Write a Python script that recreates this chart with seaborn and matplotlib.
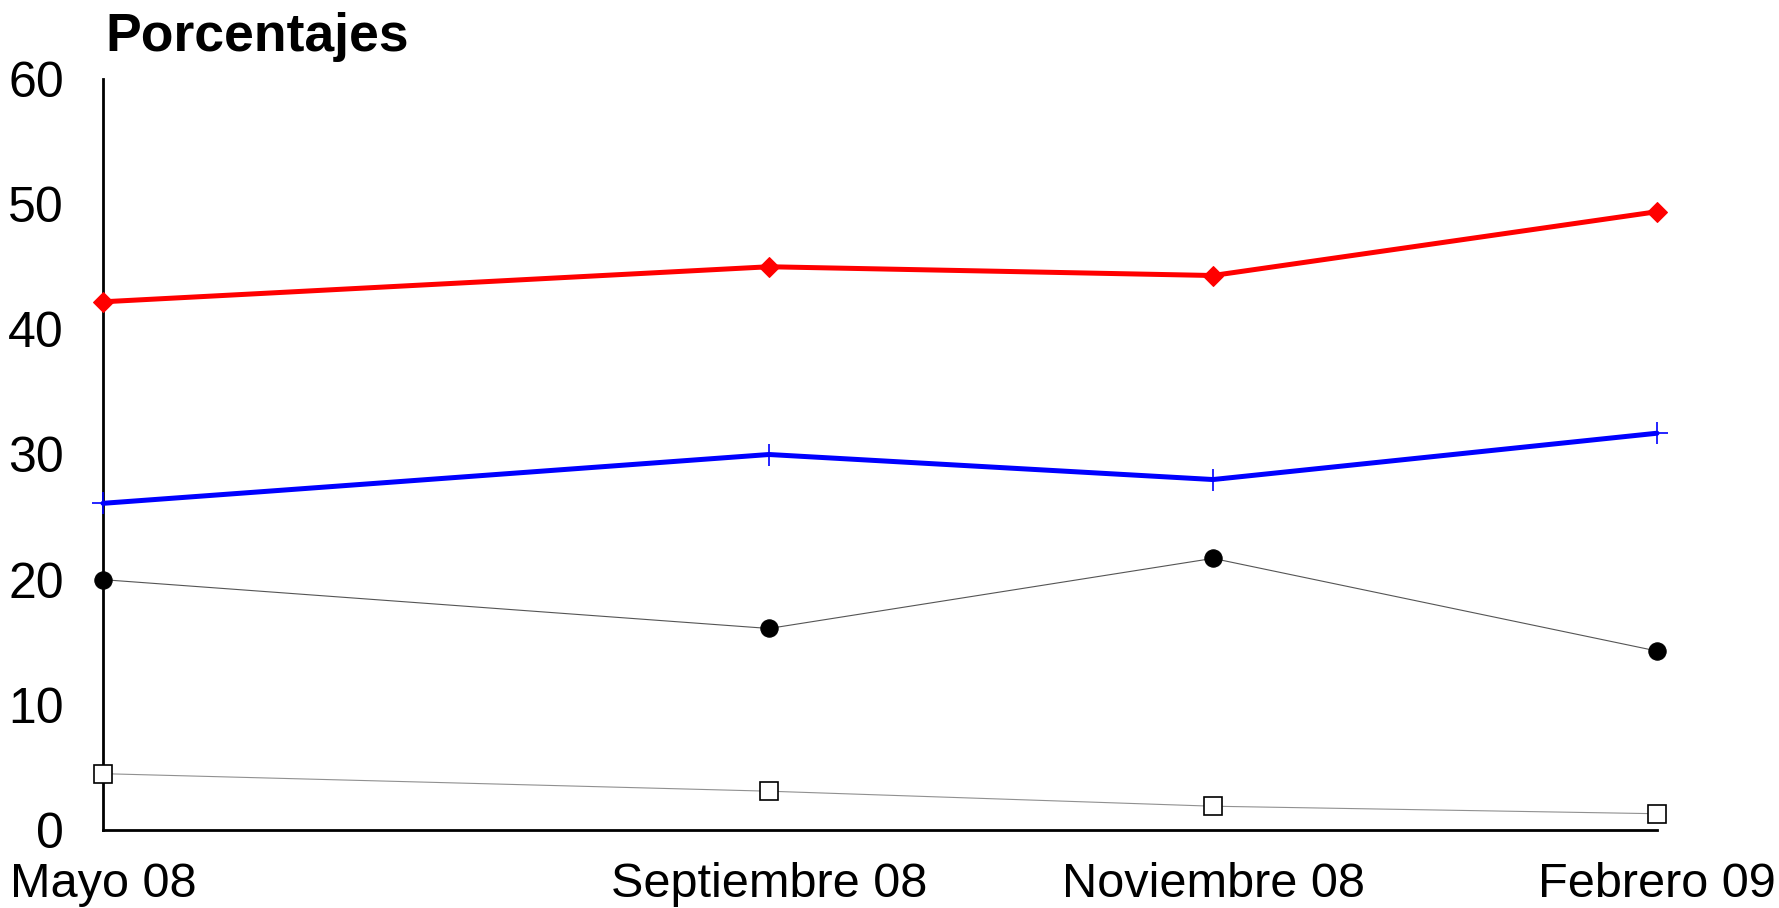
import matplotlib
matplotlib.use("Agg")
import matplotlib.pyplot as plt
import seaborn as sns
import pandas as pd

categories = ["Mayo 08", "Septiembre 08", "Noviembre 08", "Febrero 09"]
positions = [0, 3, 5, 7]
serie_roja = [42.2, 45.0, 44.3, 49.4]
serie_azul = [26.1, 30.0, 28.0, 31.7]
serie_negra = [20.0, 16.1, 21.7, 14.3]
serie_cuadros = [4.5, 3.1, 1.9, 1.3]
yticks = [0, 10, 20, 30, 40, 50, 60]

sns.set_style("white")
plt.rcParams['font.family'] = ['Liberation Sans', 'DejaVu Sans']

fig = plt.figure(figsize=(17.79, 9.08), dpi=100)
ax = fig.add_axes([103/1779, 78/908, (1657-103)/1779, (830-79)/908])

styles = [
    (serie_cuadros, dict(color="#909090", linewidth=0.8, marker="s", markersize=13,
                         markerfacecolor="white", markeredgecolor="black", markeredgewidth=1.2)),
    (serie_negra, dict(color="#555555", linewidth=0.8, marker="o", markersize=12.5,
                       markerfacecolor="black", markeredgecolor="black")),
    (serie_azul, dict(color="#0000FF", linewidth=3.6, marker="+", markersize=16,
                      markeredgewidth=1.2, markeredgecolor="#0000FF")),
    (serie_roja, dict(color="#FF0000", linewidth=3.6, marker="D", markersize=10.5,
                      markerfacecolor="#FF0000", markeredgecolor="#FF0000")),
]
for vals, kw in styles:
    df = pd.DataFrame({"x": positions, "y": vals})
    sns.lineplot(data=df, x="x", y="y", ax=ax, clip_on=False, zorder=3, **kw)

ax.set_xlim(0, 7)
ax.set_ylim(0, 60)
ax.set_xticks(positions)
ax.set_xticklabels(categories)
ax.set_yticks(yticks)
ax.set_xlabel("")
ax.set_ylabel("")
ax.tick_params(axis="both", length=0, colors="black")
ax.tick_params(axis="x", pad=23, labelsize=35)
ax.tick_params(axis="y", pad=28, labelsize=36)
for s in ["top", "right"]:
    ax.spines[s].set_visible(False)
for s in ["left", "bottom"]:
    ax.spines[s].set_color("black")
    ax.spines[s].set_linewidth(2)
ax.grid(False)

fig.text(105/1779, 1 - 51/908, "Porcentajes", fontsize=38.5, fontweight="bold",
         color="black", ha="left", va="baseline")

fig.savefig("out.png", dpi=100)
